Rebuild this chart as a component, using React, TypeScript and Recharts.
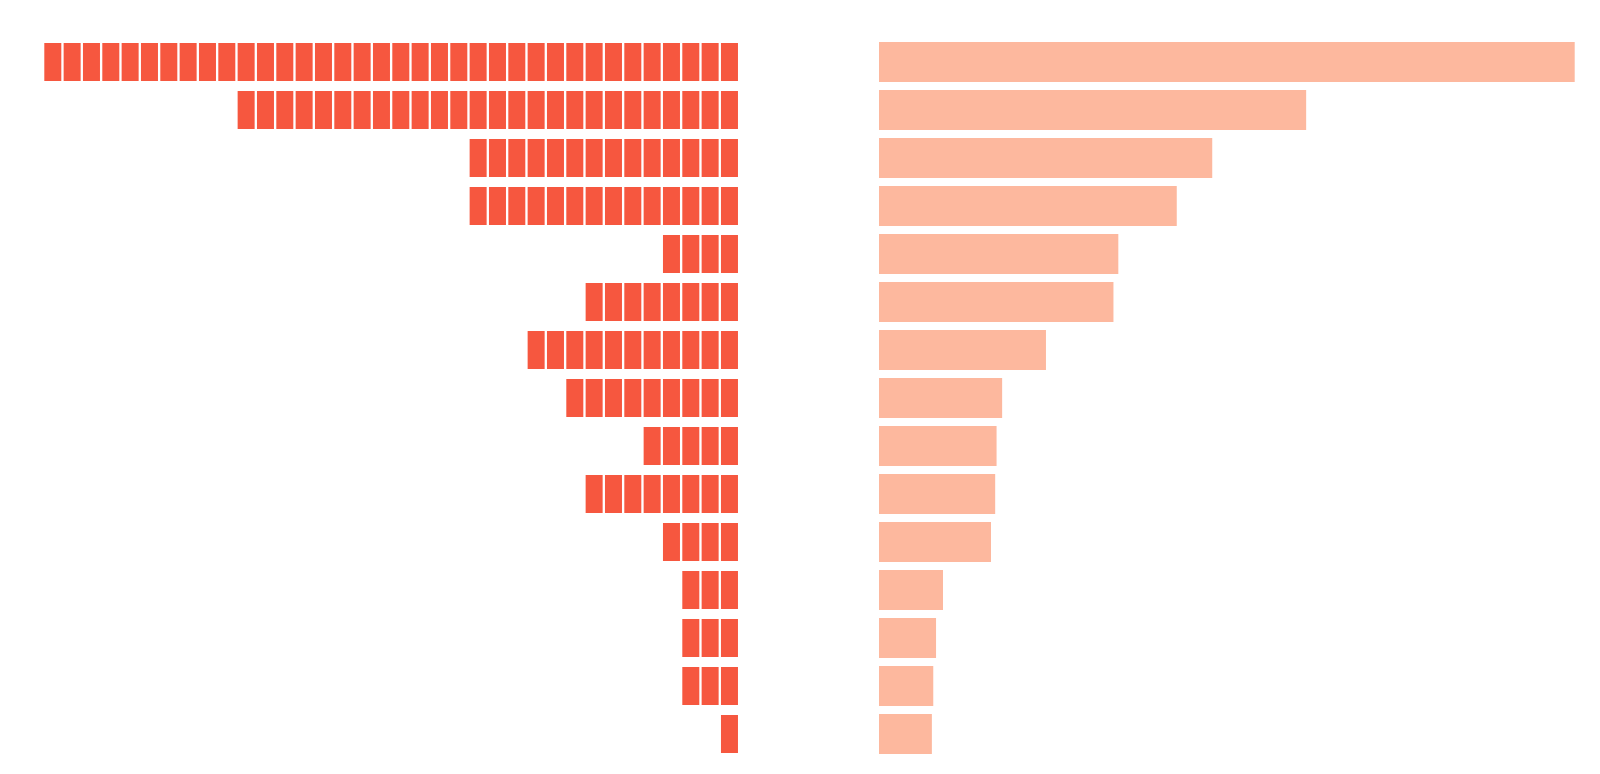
import React from "react";
import { BarChart, Bar, XAxis, YAxis } from "recharts";

// categories (no labels shown in the chart)
const categories = [
  "r1", "r2", "r3", "r4", "r5", "r6", "r7", "r8",
  "r9", "r10", "r11", "r12", "r13", "r14", "r15",
];
// left: unit counts, one block per unit
const unitCounts = [36, 26, 14, 14, 4, 8, 11, 9, 5, 8, 4, 3, 3, 3, 1];
// right: bar values
const barValues = [1000, 614, 479, 428, 344, 337, 240, 177, 169, 167, 161, 92, 82, 78, 76];

const UNIT_MAX = 36;
const BAR_MAX = 1000;
const GAP = 2.33;

const data = categories.map((name, i) => ({
  name,
  units: unitCounts[i],
  value: barValues[i],
}));

// splits one bar into separate unit blocks
function UnitBlocks(props: any) {
  const { x, y, width, height, payload } = props;
  const n = payload.units;
  if (!n) return null;
  const left = Math.min(x, x + width);
  const w = Math.abs(width);
  const unit = w / n;
  const blocks = [];
  for (let i = 0; i < n; i++) {
    blocks.push(
      <rect
        key={i}
        x={left + i * unit}
        y={y}
        width={unit - GAP}
        height={height}
        fill="#f6573f"
      />
    );
  }
  return <g>{blocks}</g>;
}

export default function App() {
  return (
    <div style={{ position: "absolute", left: 0, top: 0, width: 1600, height: 774, background: "#fff" }}>
      <div style={{ position: "absolute", left: 0, top: 0 }}>
        <BarChart
          width={760}
          height={774}
          data={data}
          layout="vertical"
          barSize={38}
          margin={{ top: 38, bottom: 16, left: 44.3, right: 19.7 }}
        >
          <XAxis type="number" domain={[0, UNIT_MAX]} reversed hide />
          <YAxis type="category" dataKey="name" hide />
          <Bar dataKey="units" shape={<UnitBlocks />} isAnimationActive={false} />
        </BarChart>
      </div>
      <div style={{ position: "absolute", left: 860, top: 0 }}>
        <BarChart
          width={740}
          height={774}
          data={data}
          layout="vertical"
          barSize={40}
          margin={{ top: 38, bottom: 16, left: 19, right: 25.3 }}
        >
          <XAxis type="number" domain={[0, BAR_MAX]} hide />
          <YAxis type="category" dataKey="name" hide />
          <Bar dataKey="value" fill="#fdb89e" isAnimationActive={false} />
        </BarChart>
      </div>
    </div>
  );
}
